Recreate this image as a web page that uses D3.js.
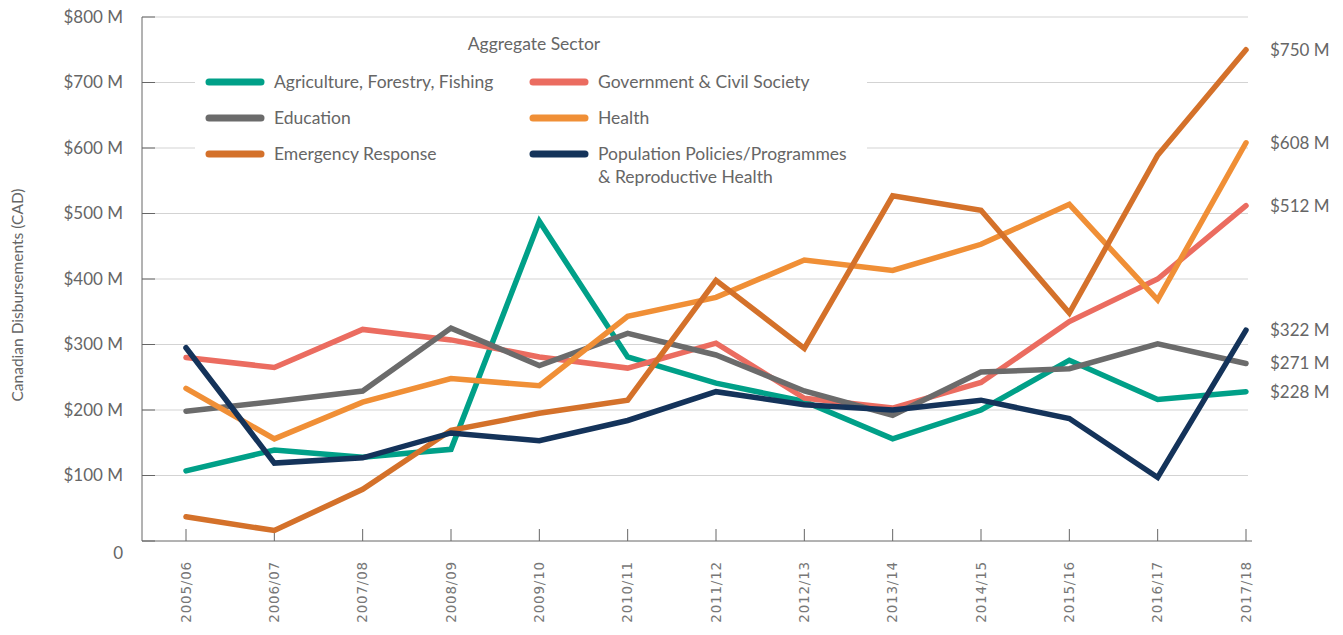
<!DOCTYPE html>
<html>
<head>
<meta charset="utf-8">
<script src="https://cdn.jsdelivr.net/npm/d3@7"></script>
<style>
	body { margin: 0; background: #fff; }
	text { font-family: Lato, "Open Sans", sans-serif; fill: #666; }
</style>
</head>
<body>
<div id="chart"></div>
<script>
var years = ["2005/06", "2006/07", "2007/08", "2008/09", "2009/10", "2010/11", "2011/12",
	"2012/13", "2013/14", "2014/15", "2015/16", "2016/17", "2017/18"];

var yTicks = [0, 100, 200, 300, 400, 500, 600, 700, 800];

// values in $ millions
var agriculture = [107, 139, 128, 140, 488, 281, 241, 213, 156, 200, 276, 216, 228];
var government = [280, 265, 323, 307, 281, 264, 302, 218, 203, 242, 335, 400, 512];
var education = [198, 213, 229, 325, 268, 317, 284, 229, 192, 258, 263, 301, 271];
var health = [233, 156, 212, 248, 237, 343, 372, 429, 413, 453, 514, 368, 608];
var emergency = [37, 16, 79, 169, 195, 215, 398, 294, 527, 505, 348, 589, 750];
var population = [295, 119, 127, 165, 153, 184, 228, 208, 200, 215, 187, 97, 322];

var series = [
	{ name: "Agriculture, Forestry, Fishing", values: agriculture, color: "#00a088" },
	{ name: "Government & Civil Society", values: government, color: "#eb6c60" },
	{ name: "Education", values: education, color: "#6b6b6b" },
	{ name: "Health", values: health, color: "#f08f36" },
	{ name: "Emergency Response", values: emergency, color: "#d4712a" },
	{ name: "Population Policies/Programmes", name2: "& Reproductive Health", values: population, color: "#14335a" }
];

var margin = { top: 17, right: 95, bottom: 94, left: 142 },
	width = 1343 - margin.left - margin.right,
	height = 635 - margin.top - margin.bottom;

var svg = d3.select("#chart").append("svg")
	.attr("width", 1343)
	.attr("height", 635)
	.append("g")
	.attr("transform", "translate(" + margin.left + "," + margin.top + ")");

var x = d3.scalePoint()
	.domain(years)
	.range([44, 1104]);

var y = d3.scaleLinear()
	.domain([0, 800])
	.range([height, 0]);

// gridlines
svg.selectAll(".grid")
	.data(yTicks.filter(function(d) { return d > 0; }))
	.enter().append("line")
	.attr("x1", 0)
	.attr("x2", width)
	.attr("y1", function(d) { return y(d); })
	.attr("y2", function(d) { return y(d); })
	.attr("stroke", "#d3d3d3")
	.attr("stroke-width", 1);

// y ticks (inward)
svg.selectAll(".ytick")
	.data(yTicks)
	.enter().append("line")
	.attr("x1", 0)
	.attr("x2", 13)
	.attr("y1", function(d) { return y(d); })
	.attr("y2", function(d) { return y(d); })
	.attr("stroke", "#666");

svg.selectAll(".ylabel")
	.data(yTicks)
	.enter().append("text")
	.attr("x", -19)
	.attr("y", function(d) { return d === 0 ? y(d) + 12 : y(d); })
	.attr("dy", "0.35em")
	.attr("text-anchor", "end")
	.style("font-size", "17px")
	.text(function(d) { return d === 0 ? "0" : "$" + d + " M"; });

// x ticks (inward)
svg.selectAll(".xtick")
	.data(years)
	.enter().append("line")
	.attr("x1", function(d) { return x(d); })
	.attr("x2", function(d) { return x(d); })
	.attr("y1", height)
	.attr("y2", height - 12)
	.attr("stroke", "#666");

svg.selectAll(".xlabel")
	.data(years)
	.enter().append("text")
	.attr("transform", function(d) {
		return "translate(" + x(d) + "," + (height + 20) + ")rotate(-90)";
	})
	.attr("dy", "0.35em")
	.attr("text-anchor", "end")
	.style("font-family", "'DejaVu Sans', sans-serif")
	.style("font-size", "13.5px")
	.style("letter-spacing", "0.8px")
	.style("fill", "#777")
	.text(function(d) { return d; });

// axis lines
svg.append("line")
	.attr("x1", 0).attr("x2", 0)
	.attr("y1", 0).attr("y2", height)
	.attr("stroke", "#666");
svg.append("line")
	.attr("x1", 0).attr("x2", width + 4)
	.attr("y1", height).attr("y2", height)
	.attr("stroke", "#666");

// y axis title
svg.append("text")
	.attr("transform", "translate(" + (-124) + "," + 278 + ")rotate(-90)")
	.attr("dy", "0.35em")
	.attr("text-anchor", "middle")
	.style("font-size", "15.5px")
	.text("Canadian Disbursements (CAD)");

// lines
var line = d3.line()
	.x(function(d, i) { return x(years[i]); })
	.y(function(d) { return y(d); });

svg.selectAll(".series")
	.data(series)
	.enter().append("path")
	.attr("class", "series")
	.attr("d", function(d) { return line(d.values); })
	.attr("fill", "none")
	.attr("stroke", function(d) { return d.color; })
	.attr("stroke-width", 5.5)
	.attr("stroke-linecap", "round")
	.attr("stroke-linejoin", "miter");

// end labels
svg.selectAll(".endlabel")
	.data(series)
	.enter().append("text")
	.attr("x", x(years[years.length - 1]) + 24)
	.attr("y", function(d) { return y(d.values[d.values.length - 1]); })
	.attr("dy", "0.35em")
	.style("font-size", "17px")
	.text(function(d) { return "$" + d.values[d.values.length - 1] + " M"; });

// legend
var legend = svg.append("g")
	.attr("transform", "translate(53,0)");

legend.append("rect")
	.attr("x", 0)
	.attr("y", 10)
	.attr("width", 672)
	.attr("height", 166)
	.attr("fill", "#fff");

legend.append("text")
	.attr("x", 339)
	.attr("y", 27)
	.attr("dy", "0.35em")
	.attr("text-anchor", "middle")
	.style("font-size", "17.5px")
	.text("Aggregate Sector");

var legendOrder = [0, 2, 4, 1, 3, 5];
var items = legend.selectAll(".item")
	.data(legendOrder.map(function(k) { return series[k]; }))
	.enter().append("g")
	.attr("class", "item")
	.attr("transform", function(d, i) {
		return "translate(" + (i < 3 ? 14 : 338) + "," + (65 + (i % 3) * 36) + ")";
	});

items.append("line")
	.attr("x1", 0)
	.attr("x2", 52)
	.attr("stroke", function(d) { return d.color; })
	.attr("stroke-width", 7)
	.attr("stroke-linecap", "round");

items.append("text")
	.attr("x", 65)
	.attr("dy", "0.35em")
	.style("font-size", "17.5px")
	.text(function(d) { return d.name; });

items.filter(function(d) { return d.name2; })
	.append("text")
	.attr("x", 65)
	.attr("y", 23)
	.attr("dy", "0.35em")
	.style("font-size", "17.5px")
	.text(function(d) { return d.name2; });
</script>
</body>
</html>
